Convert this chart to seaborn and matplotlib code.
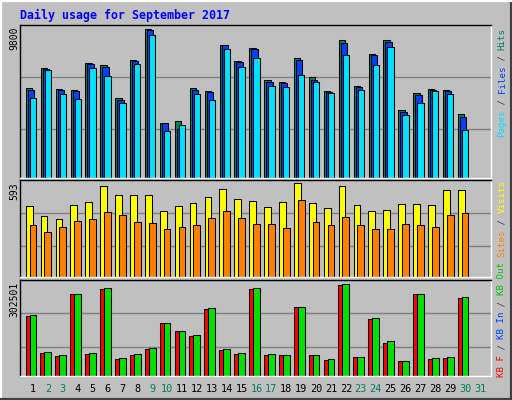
import matplotlib
matplotlib.use("Agg")
import matplotlib.pyplot as plt
import seaborn as sns
import numpy as np

sns.set_style("white")
plt.rcParams['font.family'] = ['DejaVu Sans Mono']

days = list(range(1, 31))
hits = [5924,7260,5857,5790,7594,7460,5256,7795,9800,3652,3786,5924,5723,8797,7728,8596,6458,6325,7928,6659,5723,9064,6057,8195,9064,4454,5590,5857,5790,4187]
files = [5790,7216,5790,5746,7527,7327,5167,7705,9732,3608,3251,5790,5657,8752,7639,8530,6325,6258,7795,6458,5679,8930,5991,8129,8997,4320,5456,5812,5723,4053]
pages = [5256,7126,5523,5189,7260,6726,4922,7527,9398,3118,3519,5523,5122,8530,7327,7928,6057,5991,6792,6325,5590,8129,5790,7460,8663,4120,4922,5723,5523,3185]
visits = [451,386,367,457,476,573,522,522,522,418,451,470,509,554,496,483,444,476,593,470,438,573,457,418,425,464,464,457,548,548]
sites = [328,282,315,354,367,412,392,347,341,302,315,328,373,418,373,334,334,308,489,347,328,379,328,302,302,334,328,315,392,405]
kb_f = [196100,76450,66480,269200,73130,285900,56510,69800,89750,172800,149600,133000,219400,86420,73130,285900,69800,69800,226000,69800,53180,299200,63160,186100,109700,49860,269200,56510,59830,255900]
kb_out = [199400,79780,69800,269200,76450,289200,59830,73130,93070,172800,149600,136300,222700,89750,76450,289200,73130,69800,226000,69800,56510,302501,63160,189500,116300,49860,269200,59830,63160,259300]
day_labels = [str(d) for d in range(1, 32)]
weekend = {2,3,9,10,16,17,23,24,30,31}

W, H = 512, 400
BG = '#c0c0c0'
fig = plt.figure(figsize=(W/100, H/100), dpi=100, facecolor=BG)

def rect(x0, y0, x1, y1):
    return [x0/W, 1-y1/H, (x1-x0)/W, (y1-y0)/H]

px = 14.9
def dx(p):
    return p / px

xl = (0.128, 31.74)

def style(ax, ymax, grids):
    ax.set_facecolor(BG)
    ax.set_xlim(*xl)
    ax.set_ylim(0, ymax)
    for g in grids:
        ax.axhline(g, color='#808080', lw=1, zorder=0)
    ax.set_xticks([]); ax.set_yticks([])
    ax.spines['top'].set_color('black'); ax.spines['left'].set_color('black')
    ax.spines['bottom'].set_color('white'); ax.spines['right'].set_color('white')
    for s in ax.spines.values():
        s.set_linewidth(1)

x = np.array(days, dtype=float)
kw = dict(edgecolor='black', linewidth=0.75, align='center')

ax1 = fig.add_axes(rect(20, 25, 491, 178))
style(ax1, 10085, [3231, 6635])
w = dx(6.3)
ax1.bar(x - dx(4), hits, w, color='#00805c', **kw)
ax1.bar(x - dx(2), files, w, color='#0040ff', **kw)
ax1.bar(x, pages, w, color='#00e0ff', **kw)

ax2 = fig.add_axes(rect(20, 180, 491, 277))
style(ax2, 614, [195, 405])
w2 = dx(6.8)
ax2.bar(x - dx(3.8), visits, w2, color='#ffff00', **kw)
ax2.bar(x, sites, w2, color='#ff8000', **kw)

ax3 = fig.add_axes(rect(20, 280, 491, 376))
style(ax3, 315800, [97000, 206000])
ax3.bar(x - dx(4), kb_f, w2, color='#ff0000', **kw)
ax3.bar(x, kb_out, w2, color='#00e000', **kw)

for i, lab in enumerate(day_labels):
    xp = 33 + i * 14.9
    fig.text(xp/W, 1-389/H, lab, ha='center', va='center', fontsize=7.4,
             color='#00805c' if (i+1) in weekend else 'black')

fig.text(20/W, 1-15/H, 'Daily usage for September 2017', color='#0000ff',
         fontsize=8.4, fontweight='bold', ha='left', va='center')

for txt, ytop in [('9800', 27), ('593', 182), ('302501', 282)]:
    fig.text(14/W, 1-ytop/H, txt, rotation=90, ha='center', va='top', fontsize=7, color='black')

def vlabel(parts, ybottom):
    y = ybottom
    cw = 5.45
    for t, c in parts:
        fig.text(502/W, 1-y/H, t, rotation=90, ha='center', va='bottom', fontsize=6.6, color=c)
        y -= cw * len(t)

vlabel([('Pages', '#00e0ff'), (' / ', '#404040'), ('Files', '#0040ff'), (' / ', '#404040'), ('Hits', '#00805c')], 137)
vlabel([('Sites', '#ff8000'), (' / ', '#404040'), ('Visits', '#ffff00')], 257)
vlabel([('KB F', '#ff0000'), (' / ', '#404040'), ('KB In', '#0040ff'), (' / ', '#404040'), ('KB Out', '#00c000')], 377)

# outer bevel frame
frame = fig.add_axes([0, 0, 1, 1], facecolor='none', zorder=-1)
frame.set_xticks([]); frame.set_yticks([])
frame.spines['top'].set_color('white'); frame.spines['left'].set_color('white')
frame.spines['bottom'].set_color('#404040'); frame.spines['right'].set_color('#404040')
for s in frame.spines.values():
    s.set_linewidth(3)

fig.savefig('out.png', dpi=100, facecolor=BG)
